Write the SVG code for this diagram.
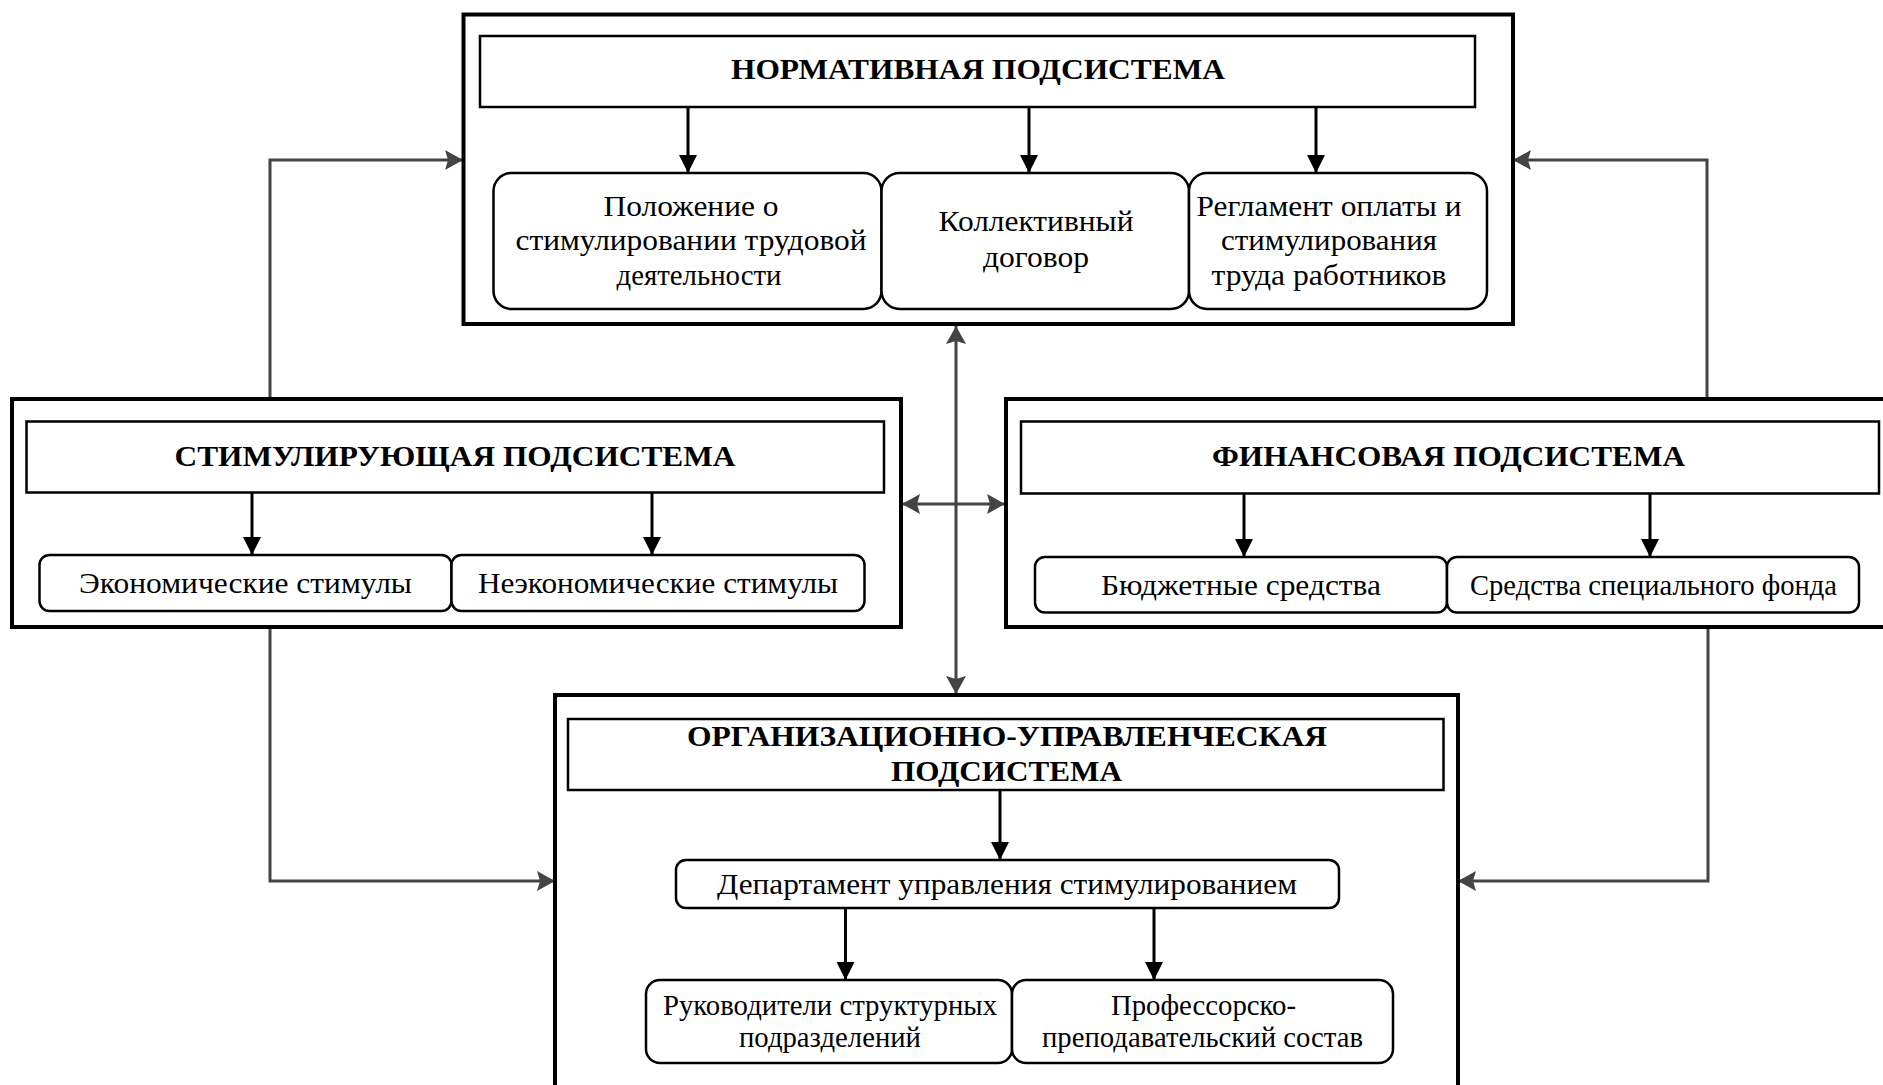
<svg xmlns="http://www.w3.org/2000/svg" width="1883" height="1085" viewBox="0 0 1883 1085">
<style>
.outer{fill:#fff;stroke:#000;stroke-width:4}
.head{fill:#fff;stroke:#000;stroke-width:2.5}
.item{fill:#fff;stroke:#000;stroke-width:2.5}
.t{font-family:"Liberation Serif","Times New Roman",serif;font-size:29px;fill:#000;text-anchor:middle}
.b{font-weight:bold}
.arr{stroke:#000;stroke-width:3;fill:none;marker-end:url(#ab)}
.con{stroke:#444;stroke-width:3;fill:none;marker-end:url(#ag)}
.dbl{stroke:#444;stroke-width:3;fill:none;marker-end:url(#ag);marker-start:url(#ags)}
</style>
<defs>
<marker id="ab" viewBox="0 0 18 18" refX="18" refY="9" markerWidth="18" markerHeight="18" markerUnits="userSpaceOnUse" orient="auto"><path d="M0,0 L18,9 L0,18 z" fill="#000"/></marker>
<marker id="ag" viewBox="0 0 18 20" refX="18" refY="10" markerWidth="18" markerHeight="20" markerUnits="userSpaceOnUse" orient="auto"><path d="M0,0 L18,10 L0,20 L3,10 z" fill="#444"/></marker>
<marker id="ags" viewBox="0 0 18 20" refX="18" refY="10" markerWidth="18" markerHeight="20" markerUnits="userSpaceOnUse" orient="auto-start-reverse"><path d="M0,0 L18,10 L0,20 L3,10 z" fill="#444"/></marker>
</defs>
<rect width="1883" height="1085" fill="#fff"/>

<g id="connectors">
<path class="con" d="M270,399 V160 H463"/>
<path class="con" d="M1707,399 V160 H1513"/>
<path class="con" d="M270,627 V881 H555"/>
<path class="con" d="M1708,627 V881 H1458"/>
<path class="dbl" d="M956,326 V694"/>
<path class="dbl" d="M902,504 H1005"/>
</g>

<g id="normative">
<rect class="outer" x="463.5" y="14.5" width="1049.5" height="309.5"/>
<rect class="head" x="480" y="36" width="995" height="71"/>
<text class="t b" x="978" y="79" textLength="494" lengthAdjust="spacingAndGlyphs">НОРМАТИВНАЯ ПОДСИСТЕМА</text>
<path class="arr" d="M688,107 V173"/>
<path class="arr" d="M1029,107 V173"/>
<path class="arr" d="M1316,107 V173"/>
<g id="n1">
<rect class="item" x="493.5" y="173" width="388" height="136" rx="18"/>
<text class="t" x="691" y="216" textLength="175" lengthAdjust="spacingAndGlyphs">Положение о</text>
<text class="t" x="691" y="250" textLength="351" lengthAdjust="spacingAndGlyphs">стимулировании трудовой</text>
<text class="t" x="699" y="285" textLength="165" lengthAdjust="spacingAndGlyphs">деятельности</text>
</g>
<g id="n2">
<rect class="item" x="881.5" y="173" width="307.5" height="136" rx="18"/>
<text class="t" x="1036" y="231" textLength="195" lengthAdjust="spacingAndGlyphs">Коллективный</text>
<text class="t" x="1036" y="267" textLength="106" lengthAdjust="spacingAndGlyphs">договор</text>
</g>
<g id="n3">
<rect class="item" x="1189" y="173" width="298" height="136" rx="18"/>
<text class="t" x="1329" y="216" textLength="265" lengthAdjust="spacingAndGlyphs">Регламент оплаты и</text>
<text class="t" x="1329" y="250" textLength="216" lengthAdjust="spacingAndGlyphs">стимулирования</text>
<text class="t" x="1329" y="285" textLength="235" lengthAdjust="spacingAndGlyphs">труда работников</text>
</g>
</g>

<g id="stimulating">
<rect class="outer" x="12" y="399" width="889" height="228"/>
<rect class="head" x="26.5" y="421.5" width="857.5" height="71"/>
<text class="t b" x="455" y="466" textLength="561" lengthAdjust="spacingAndGlyphs">СТИМУЛИРУЮЩАЯ ПОДСИСТЕМА</text>
<path class="arr" d="M252,492.5 V555"/>
<path class="arr" d="M652,492.5 V555"/>
<g id="s1">
<rect class="item" x="39.5" y="555" width="412" height="56" rx="10"/>
<text class="t" x="245.5" y="593" textLength="333" lengthAdjust="spacingAndGlyphs">Экономические стимулы</text>
</g>
<g id="s2">
<rect class="item" x="451.5" y="555" width="413" height="56" rx="10"/>
<text class="t" x="658" y="593" textLength="360" lengthAdjust="spacingAndGlyphs">Неэкономические стимулы</text>
</g>
</g>

<g id="financial">
<rect class="outer" x="1006" y="399" width="890" height="228"/>
<rect class="head" x="1021" y="421.5" width="858" height="72"/>
<text class="t b" x="1448.5" y="466" textLength="473" lengthAdjust="spacingAndGlyphs">ФИНАНСОВАЯ ПОДСИСТЕМА</text>
<path class="arr" d="M1244,493.5 V557"/>
<path class="arr" d="M1650,493.5 V557"/>
<g id="f1">
<rect class="item" x="1035" y="557" width="412" height="55.5" rx="10"/>
<text class="t" x="1241" y="595" textLength="280" lengthAdjust="spacingAndGlyphs">Бюджетные средства</text>
</g>
<g id="f2">
<rect class="item" x="1447" y="557" width="412" height="55.5" rx="10"/>
<text class="t" x="1653.5" y="595" textLength="367" lengthAdjust="spacingAndGlyphs">Средства специального фонда</text>
</g>
</g>

<g id="organizational">
<rect class="outer" x="555" y="695" width="903" height="400"/>
<rect class="head" x="568" y="719" width="875.5" height="71"/>
<text class="t b" x="1007" y="746" textLength="640" lengthAdjust="spacingAndGlyphs">ОРГАНИЗАЦИОННО-УПРАВЛЕНЧЕСКАЯ</text>
<text class="t b" x="1006.5" y="781" textLength="231" lengthAdjust="spacingAndGlyphs">ПОДСИСТЕМА</text>
<path class="arr" d="M1000,790 V860"/>
<g id="o1">
<rect class="item" x="676" y="860" width="663" height="48" rx="10"/>
<text class="t" x="1007" y="894" textLength="580" lengthAdjust="spacingAndGlyphs">Департамент управления стимулированием</text>
</g>
<path class="arr" d="M845.5,908 V980"/>
<path class="arr" d="M1154,908 V980"/>
<g id="o2">
<rect class="item" x="646" y="980" width="366" height="83" rx="14"/>
<text class="t" x="830" y="1015" textLength="334" lengthAdjust="spacingAndGlyphs">Руководители структурных</text>
<text class="t" x="830" y="1047" textLength="182" lengthAdjust="spacingAndGlyphs">подразделений</text>
</g>
<g id="o3">
<rect class="item" x="1012" y="980" width="381" height="83" rx="14"/>
<text class="t" x="1203.5" y="1015" textLength="185" lengthAdjust="spacingAndGlyphs">Профессорско-</text>
<text class="t" x="1202.5" y="1047" textLength="321" lengthAdjust="spacingAndGlyphs">преподавательский состав</text>
</g>
</g>
</svg>
